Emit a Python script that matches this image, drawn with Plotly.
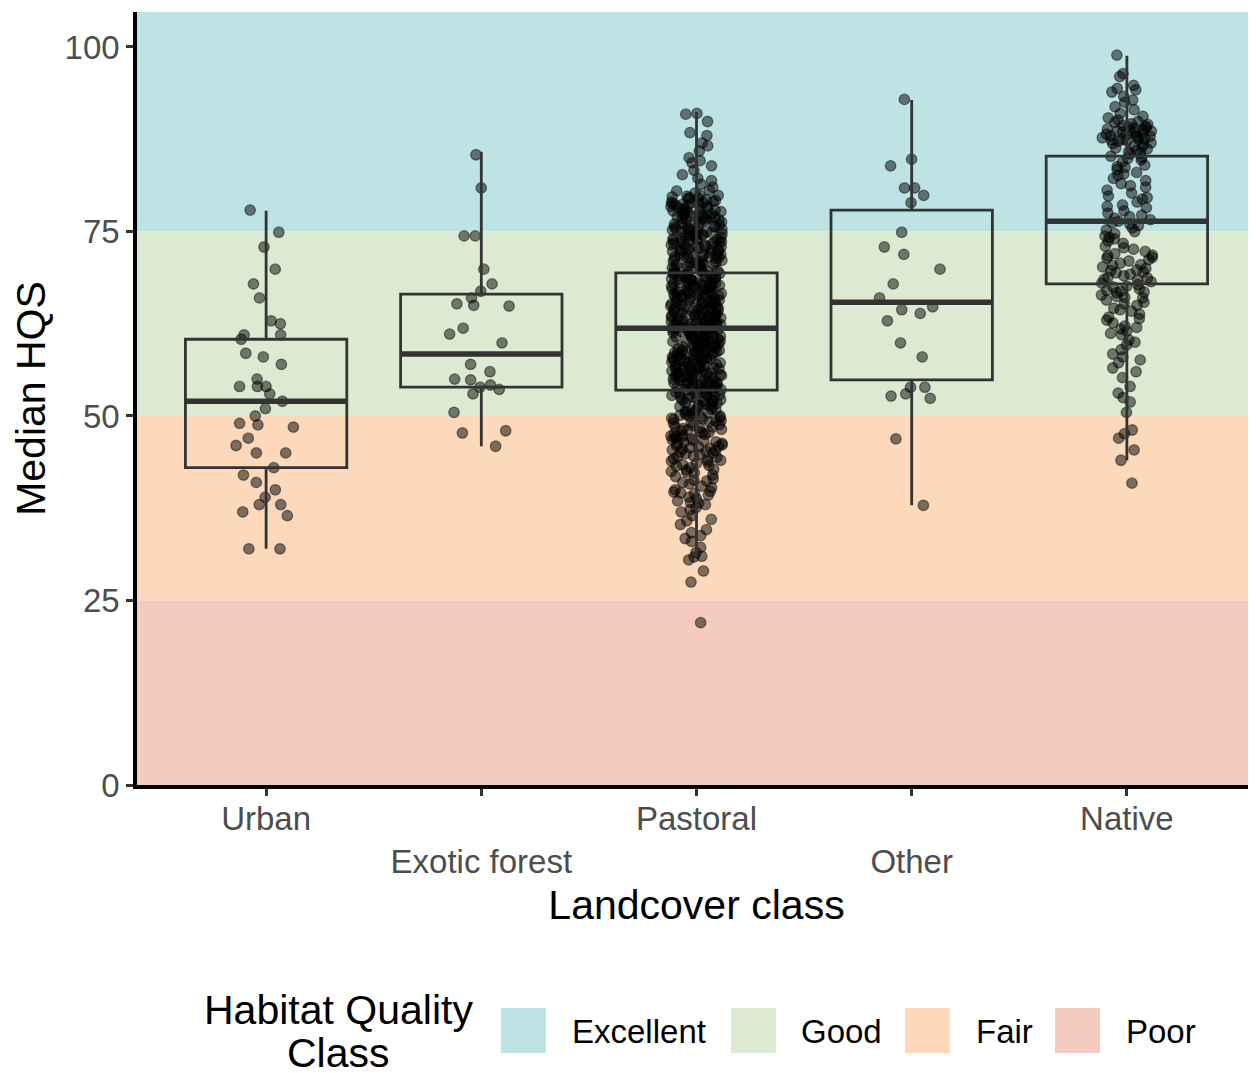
import plotly.graph_objects as go

# ---------------- data ----------------
categories = ["Urban", "Exotic forest", "Pastoral", "Other", "Native"]
tick_text = ["Urban", "<br>Exotic forest", "Pastoral", "<br>Other", "Native"]

q1_vals = [43.0, 53.9, 53.5, 54.9, 67.9]
median_vals = [52.0, 58.4, 61.9, 65.4, 76.4]
q3_vals = [60.4, 66.5, 69.4, 77.9, 85.2]
lower_whisker = [32.0, 45.9, 30.9, 37.9, 44.0]
upper_whisker = [77.8, 85.8, 91.2, 92.8, 98.8]

urban_hqs = [77.9, 74.9, 72.9, 69.9, 67.9, 66.0, 62.9, 62.5, 61.0, 61.0, 60.4, 58.5,
             58.0, 57.0, 55.0, 54.0, 54.0, 54.0, 53.0, 52.0, 51.0, 50.0, 49.0, 48.8,
             48.5, 47.0, 46.0, 45.0, 45.0, 43.0, 42.0, 41.0, 40.0, 39.0, 38.0, 38.0,
             37.0, 36.5, 32.0, 32.0]

exotic_hqs = [85.4, 80.9, 74.4, 74.4, 69.9, 67.9, 66.9, 66.0, 65.2, 65.0, 64.9, 61.9,
              61.1, 59.9, 57.0, 56.0, 55.0, 54.9, 54.2, 53.9, 53.6, 53.0, 50.5, 48.0,
              47.7, 45.9]

pastoral_hqs = [
    91.0, 90.9, 89.9, 88.4, 88.0, 87.0, 86.6, 85.9, 85.0, 84.6, 84.3, 83.9, 83.3, 82.7,
    82.2, 81.9, 81.4, 81.0, 80.6, 80.5, 80.2, 79.9, 79.7, 79.4, 79.2, 79.0, 78.9, 78.7,
    78.4, 78.3, 78.1, 77.9, 77.8, 77.5, 77.4, 77.2, 77.0, 76.9, 76.7, 76.4, 76.2,
    75.9, 75.7, 75.6, 75.3, 75.1, 75.0, 74.8, 74.6, 74.5, 74.2, 74.0, 73.9, 73.7, 73.5,
    73.4, 73.2, 73.0, 72.9, 72.6, 72.5, 72.4, 72.1, 72.0, 71.8, 71.6, 71.5, 71.3, 71.1,
    71.0, 70.8, 70.6, 70.5, 70.3, 70.2, 70.0, 69.8, 69.7, 69.5, 69.4,
    69.3, 69.2, 69.1, 69.0, 68.9, 68.8, 68.7, 68.6, 68.5, 68.4, 68.2, 68.1, 68.0, 67.9,
    67.8, 67.7, 67.6, 67.5, 67.4, 67.3, 67.2, 67.1, 67.0, 66.9, 66.8, 66.7, 66.6, 66.5,
    66.4, 66.3, 66.1, 66.0, 65.9, 65.8, 65.7, 65.6, 65.5, 65.4, 65.3, 65.2, 65.1, 64.9,
    64.8, 64.7, 64.6, 64.5, 64.4, 64.3, 64.2, 64.1, 64.0, 63.9, 63.8, 63.7, 63.6, 63.5,
    63.4, 63.3, 63.2, 63.1, 63.0, 62.9, 62.8, 62.7, 62.6, 62.5, 62.4, 62.4, 62.3, 62.2,
    62.1, 62.0, 61.9,
    61.8, 61.7, 61.6, 61.5, 61.4, 61.3, 61.2, 61.1, 61.0, 60.9, 60.8, 60.7, 60.6, 60.5,
    60.4, 60.3, 60.2, 60.1, 60.0, 59.9, 59.8, 59.7, 59.6, 59.5, 59.4, 59.3, 59.2, 59.1,
    59.0, 58.9, 58.8, 58.7, 58.6, 58.5, 58.4, 58.3, 58.2, 58.1, 57.9, 57.8, 57.7, 57.6,
    57.5, 57.4, 57.3, 57.2, 57.0, 56.9, 56.8, 56.7, 56.6, 56.5, 56.4, 56.3, 56.2, 56.0,
    55.9, 55.8, 55.7, 55.6, 55.5, 55.4, 55.3, 55.2, 55.1, 55.0, 54.9, 54.8, 54.6, 54.5,
    54.4, 54.3, 54.2, 54.1, 53.9, 53.8, 53.7, 53.6,
    53.4, 53.3, 53.2, 53.0, 52.9, 52.8, 52.6, 52.5, 52.3, 52.2, 52.0, 51.9, 51.7, 51.5,
    51.4, 51.2, 51.0, 50.8, 50.7, 50.5, 50.3, 50.1, 50.0, 49.8, 49.6, 49.4, 49.2, 49.0,
    48.8, 48.6, 48.4, 48.2, 48.0, 47.8, 47.6, 47.4, 47.2, 47.0, 46.8, 46.6, 46.4, 46.2,
    46.0, 45.8, 45.6, 45.5, 45.2, 45.0, 44.8, 44.6, 44.4, 44.2, 44.0, 43.8, 43.6, 43.4,
    43.2, 43.0, 42.8, 42.5, 42.3, 41.8, 41.5, 41.3, 40.8, 40.5, 40.3, 39.8, 39.6, 39.5,
    39.3, 38.8, 38.5, 38.2, 37.6, 37.3, 37.0, 36.5, 36.0, 35.8, 35.3, 34.6, 34.2, 33.8,
    33.4, 33.0, 32.2, 31.5, 31.0, 30.9, 30.5, 29.0, 27.5, 22.0,
    79.8, 79.6, 79.3, 79.1, 78.8, 78.6, 78.5, 78.2, 78.0, 77.9, 77.7, 77.6, 77.3, 77.1,
    76.9, 76.8, 76.6, 76.5, 76.3, 76.1, 79.5, 79.0, 78.4, 77.8, 77.0, 76.0, 79.9, 78.9,
    77.5, 76.7,
    75.8, 75.5, 75.4, 75.2, 74.9, 74.7, 74.4, 74.3, 74.1, 73.8, 73.6, 73.3, 73.1, 72.8,
    72.7, 72.3, 72.2, 71.9, 71.7, 71.4, 71.2, 70.9, 70.7, 70.4, 70.1, 75.9, 75.0, 74.5,
    73.9, 73.5, 73.0, 72.5, 72.0, 71.5, 71.0, 70.5, 70.0, 75.6, 74.8, 74.0, 73.2, 72.4,
    71.6, 70.8, 70.3, 75.3, 74.6, 73.7, 72.9, 71.8,
    69.9, 69.6, 69.3, 69.0, 68.8, 68.5, 68.3, 68.0, 67.7, 67.5, 67.2, 67.0, 66.7, 66.5,
    66.2, 66.0, 65.7, 65.5, 65.2, 65.0, 64.7, 64.5, 64.2, 64.0, 63.7, 63.5, 63.2, 63.0,
    62.7, 62.5, 62.2, 62.0, 69.4, 68.9, 68.4, 67.9, 67.4, 66.9, 66.4, 65.9, 65.4, 64.9,
    64.4, 63.9, 63.4, 62.9, 62.4, 69.7, 68.6, 67.6, 66.6, 65.6, 64.6, 63.6, 62.6, 68.1,
    66.3, 64.8, 63.3, 62.1,
    61.9, 61.6, 61.3, 61.0, 60.8, 60.5, 60.2, 60.0, 59.7, 59.5, 59.2, 59.0, 58.7, 58.5,
    58.2, 58.0, 57.7, 57.5, 57.2, 57.0, 56.7, 56.5, 56.2, 56.0, 55.7, 55.5, 55.2, 55.0,
    54.7, 54.5, 54.2, 54.0, 61.4, 60.9, 60.4, 59.9, 59.4, 58.9, 58.4, 57.9, 57.4, 56.9,
    56.4, 55.9, 55.4, 54.9, 54.4, 61.7, 60.7, 59.6, 58.6, 57.6, 56.6, 55.6, 54.6, 61.1,
    59.3, 57.8, 56.1, 54.3,
    53.8, 53.5, 53.1, 52.7, 52.4, 52.1, 51.8, 51.3, 50.9, 50.6, 50.2, 49.9, 49.5, 49.1,
    48.7, 48.3, 47.9, 47.5, 47.1, 46.7, 46.3, 45.9, 45.4, 53.6, 52.9, 52.2, 51.6, 50.8,
    50.0, 49.3, 48.5, 47.7, 46.9, 46.1, 45.3, 53.0, 51.5, 49.7, 48.1, 46.5, 45.1, 52.6,
    50.4, 47.3, 45.7,
    44.9, 44.5, 43.9, 43.3, 42.7, 42.0, 41.0, 40.0, 39.0, 38.3, 44.1, 42.4, 41.2, 39.7,
    38.0]

other_hqs = [92.9, 84.8, 83.9, 80.9, 80.9, 79.9, 78.9, 74.9, 72.9, 71.9, 69.9, 67.9,
             66.0, 64.8, 64.4, 63.9, 62.9, 59.9, 58.0, 53.9, 53.0, 53.9, 52.7, 52.4,
             46.9, 37.9]

native_hqs = [
    98.9, 96.4, 96.0, 94.8, 94.4, 94.2, 93.9, 93.3, 92.8, 92.5, 91.9, 91.5, 91.0, 90.6,
    90.4, 90.1, 89.9, 89.8, 89.6, 89.5, 89.4, 89.2, 89.1, 89.0, 88.9, 88.8, 88.7, 88.6,
    88.5, 88.4, 88.3, 88.2, 88.1, 88.0, 87.9, 87.8, 87.7, 87.6, 87.5, 87.4, 87.3, 87.2,
    87.0, 86.8, 86.6, 86.5, 86.3, 86.0, 85.8, 85.5, 85.2, 85.0, 84.7, 84.4, 84.0, 83.7,
    83.4, 83.0, 82.6, 82.2, 81.9, 81.5, 81.0, 80.6, 80.2, 79.8, 79.4, 79.0, 78.6, 78.2,
    77.8, 77.5, 77.2, 77.0, 76.8, 76.6, 76.4,
    76.2, 76.0, 75.8, 75.5, 75.2, 75.0, 74.7, 74.4, 74.0, 73.7, 73.4, 73.0, 72.6, 72.3,
    72.0, 71.8, 71.7, 71.4, 71.2, 71.0, 70.7, 70.5, 70.4, 70.0, 69.8, 69.7, 69.4, 69.2,
    69.0, 68.7, 68.5, 68.4, 68.0, 67.8, 67.5, 67.2, 67.0, 66.8, 66.7, 66.4, 66.2, 66.0,
    65.7, 65.4, 65.0, 64.6, 64.2, 63.8, 63.4, 63.0, 62.6, 62.2, 61.8, 61.5, 61.0, 60.3,
    59.6, 59.0, 58.4, 58.0, 57.2, 56.5, 56.0, 55.2, 54.0, 53.1, 52.5, 51.9, 50.5, 48.1,
    47.6, 47.0, 45.4, 44.0, 40.9,
    89.3, 88.6, 88.0, 87.5, 86.9, 86.2, 85.6, 84.9, 83.8, 82.8, 81.2, 79.6, 78.4, 74.2,
    72.8, 71.5, 70.2, 69.5, 68.8, 68.2, 67.6, 66.9, 66.1, 65.2, 64.4, 63.2, 62.0, 61.2,
    60.0, 57.6]

group_values = [urban_hqs, exotic_hqs, pastoral_hqs, other_hqs, native_hqs]
group_jitter = [0.45, 0.45, 0.32, 0.45, 0.32]

band_names = ["Excellent", "Good", "Fair", "Poor"]
band_low = [75, 50, 25, 0]
band_high = [104.74, 75, 50, 25]
band_colors = ["#BDE3E5", "#DDEAD2", "#FBD9BA", "#F6CBBF"]

y_ticks = [0, 25, 50, 75, 100]
y_max = 104.74

# ---------------- layout geometry ----------------
FONT = "Liberation Sans, Arial, sans-serif"
OFF = 8                      # page body margin of the html output
W, H = 1256 - OFF, 1073 - OFF
ML, MR, MT, MB = 137 - OFF, 0, 12 - OFF, 288
PW, PH = W - ML - MR, H - MT - MB


def px_x(px):
    return (px - OFF - ML) / PW


def px_y(py):
    return (H - MB - (py - OFF)) / PH


fig = go.Figure()

# jittered points (drawn by plotly's box-points jitter)
for cat, vals, jit in zip(categories, group_values, group_jitter):
    fig.add_trace(go.Box(
        x=[cat] * len(vals), y=vals,
        boxpoints="all", jitter=jit, pointpos=0, width=0.75,
        line=dict(width=0, color="rgba(0,0,0,0)"),
        fillcolor="rgba(0,0,0,0)", whiskerwidth=0,
        marker=dict(size=10.5, color="rgba(0,0,0,0.5)",
                    line=dict(width=1.3, color="rgba(0,0,0,0.45)")),
        showlegend=False, hoverinfo="skip",
    ))

# boxes from summary statistics
fig.add_trace(go.Box(
    x=categories, q1=q1_vals, median=median_vals, q3=q3_vals,
    lowerfence=lower_whisker, upperfence=upper_whisker,
    boxpoints=False, width=0.75, whiskerwidth=0,
    fillcolor="rgba(0,0,0,0)", line=dict(color="#333333", width=2.8),
    showlegend=False, hoverinfo="skip",
))
# thick median bars
fig.add_trace(go.Box(
    x=categories, q1=median_vals, median=median_vals, q3=median_vals,
    lowerfence=median_vals, upperfence=median_vals,
    boxpoints=False, width=0.75, whiskerwidth=0,
    fillcolor="rgba(0,0,0,0)", line=dict(color="#333333", width=5.5),
    showlegend=False, hoverinfo="skip",
))

shapes = []
for lo, hi, col in zip(band_low, band_high, band_colors):
    shapes.append(dict(type="rect", xref="x domain", yref="y", x0=0, x1=1,
                       y0=lo, y1=hi, fillcolor=col, line=dict(width=0),
                       layer="below"))

annotations = []
# manual legend
key_left = [501, 731, 905, 1055]
label_left = [570, 799, 974, 1124]
for name, col, kx, lx in zip(band_names, band_colors, key_left, label_left):
    shapes.append(dict(type="rect", xref="paper", yref="paper",
                       x0=px_x(kx), x1=px_x(kx + 45),
                       y0=px_y(1053), y1=px_y(1008),
                       fillcolor=col, line=dict(width=0)))
    annotations.append(dict(text=name, xref="paper", yref="paper",
                            x=px_x(lx), y=px_y(1031), xanchor="left",
                            yanchor="middle", showarrow=False,
                            font=dict(family=FONT, size=33, color="black")))
annotations.append(dict(text="Habitat Quality", xref="paper", yref="paper",
                        x=px_x(338), y=px_y(1010), xanchor="center",
                        yanchor="middle", showarrow=False,
                        font=dict(family=FONT, size=41, color="black")))
annotations.append(dict(text="Class", xref="paper", yref="paper",
                        x=px_x(338), y=px_y(1053), xanchor="center",
                        yanchor="middle", showarrow=False,
                        font=dict(family=FONT, size=41, color="black")))

fig.update_layout(
    width=W, height=H,
    margin=dict(l=ML, r=MR, t=MT, b=MB),
    paper_bgcolor="white", plot_bgcolor="white",
    boxmode="overlay", hovermode=False, showlegend=False,
    font=dict(family=FONT),
    shapes=shapes, annotations=annotations,
    xaxis=dict(
        type="category", categoryorder="array", categoryarray=categories,
        range=[-0.6, 4.6], tickvals=categories, ticktext=tick_text,
        showgrid=False, zeroline=False,
        showline=True, linecolor="black", linewidth=3.5,
        ticks="outside", ticklen=7, tickwidth=3, tickcolor="#333333",
        ticklabelstandoff=-5,
        tickfont=dict(family=FONT, size=33, color="#4D4D4D"),
        title=dict(text="Landcover class", standoff=12,
                   font=dict(family=FONT, size=41, color="black")),
        automargin=False,
    ),
    yaxis=dict(
        range=[0, y_max], tickvals=y_ticks,
        showgrid=False, zeroline=False,
        showline=True, linecolor="black", linewidth=3.5,
        ticks="outside", ticklen=7, tickwidth=3, tickcolor="#333333",
        tickfont=dict(family=FONT, size=33, color="#4D4D4D"),
        title=dict(text="Median HQS", standoff=20,
                   font=dict(family=FONT, size=41, color="black")),
        automargin=False,
    ),
)

fig.write_html("out.html")
